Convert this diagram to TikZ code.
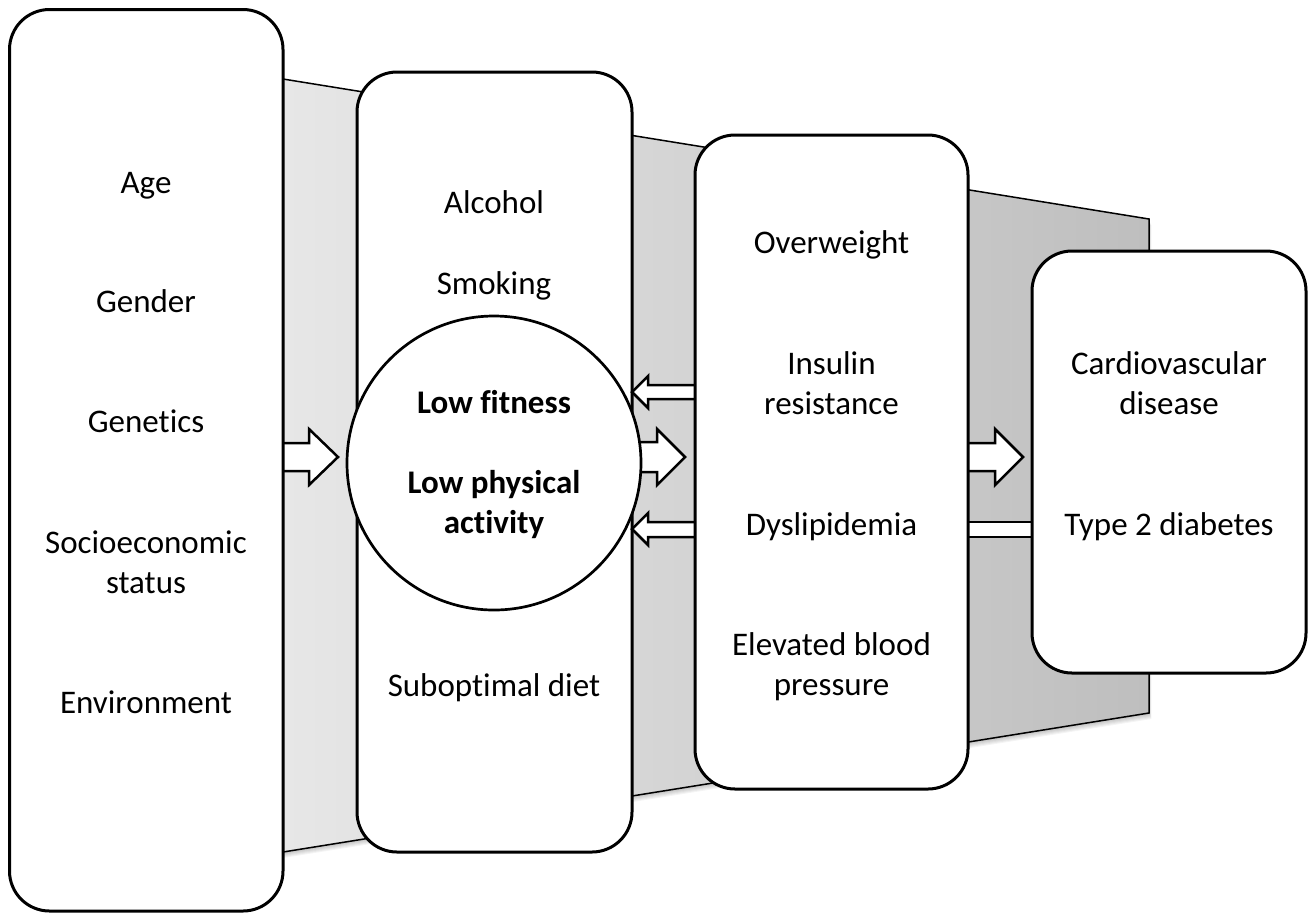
\documentclass[tikz,border=0pt]{standalone}
\usepackage{fontspec}
\setmainfont{Carlito}[Ligatures=NoCommon, RawFeature={-liga;-clig}]
\definecolor{bgL}{RGB}{231,231,231}
\definecolor{bgR}{RGB}{190,190,190}
\newcommand{\twol}[2]{\begin{tabular}[b]{@{}c@{}}#1\\#2\end{tabular}}
\begin{document}
\begin{tikzpicture}[x=1pt,y=-1pt,
  box/.style={draw, line width=3pt, rounded corners=40pt, fill=white, inner sep=0pt},
  blk/.style={draw, line width=2.5pt, fill=white, line join=miter},
  lbl/.style={font=\fontsize{33}{40}\selectfont, inner sep=0pt, anchor=base},
  blbl/.style={lbl, font=\fontsize{33}{40}\selectfont\bfseries}]
\useasboundingbox (0,0) rectangle (1309,914);
% background band with soft shadow
\foreach \s in {1,...,6}
  \fill[black, opacity=0.045] (283,79+\s) -- (1149+\s*0.4,219+\s) -- (1149+\s*0.4,713+\s) -- (283,852+\s) -- cycle;
\shade[left color=bgL, right color=bgR, draw=black, line width=1.5pt]
  (283,79) -- (1149,219) -- (1149,713) -- (283,852) -- cycle;
% forward block arrows (partly hidden under boxes)
\draw[blk] (270,443) -- (309,443) -- (309,429) -- (338,457) -- (309,485) -- (309,471) -- (270,471);
\draw[blk] (600,442) -- (657,442) -- (657,429) -- (685,457) -- (657,485) -- (657,472) -- (600,472);
\draw[blk] (950,443) -- (995,443) -- (995,429) -- (1023,457) -- (995,485) -- (995,471) -- (950,471);
\draw[blk] (950,522) rectangle (1050,537);
% boxes and circle
\node[box, minimum width=273.5pt, minimum height=901.5pt] (b1) at (146.25,460.25) {};
\node[box, minimum width=275pt, minimum height=780pt] (b2) at (494.5,462) {};
\node[draw, circle, line width=2.7pt, fill=white, minimum size=294pt, inner sep=0pt] (c) at (494,463) {};
% backward block arrows
\draw[blk] (710,385) -- (648,385) -- (648,376) -- (632,392) -- (648,408) -- (648,399) -- (710,399);
\draw[blk] (710,522) -- (648,522) -- (648,513) -- (632,529) -- (648,545) -- (648,537) -- (710,537);
\node[box, minimum width=273pt, minimum height=654pt] (b3) at (831.5,462) {};
\node[box, minimum width=274pt, minimum height=422pt] (b4) at (1169,462) {};
% texts box 1
\node[lbl] (t11) at (146,193) {Age};
\node[lbl] (t12) at (146,312) {Gender};
\node[lbl] (t13) at (146,432) {Genetics};
\node[lbl] (t14) at (146,593) {\twol{Socioeconomic}{status}};
\node[lbl] (t15) at (146,713) {Environment};
% texts box 2
\node[lbl] (t21) at (494,213) {Alcohol};
\node[lbl] (t22) at (494,294) {Smoking};
\node[blbl] (t23) at (494,413) {Low fitness};
\node[blbl] (t24) at (494,533) {\twol{Low physical}{activity}};
\node[lbl] (t25) at (494,696) {Suboptimal diet};
% texts box 3
\node[lbl] (t31) at (831.5,253) {Overweight};
\node[lbl] (t32) at (831.5,414) {\twol{Insulin}{resistance}};
\node[lbl] (t33) at (831.5,535) {Dyslipidemia};
\node[lbl] (t34) at (831.5,695) {\twol{Elevated blood}{pressure}};
% texts box 4
\node[lbl] (t41) at (1169,414) {\twol{Cardiovascular}{disease}};
\node[lbl] (t42) at (1169,535) {Type 2 diabetes};
\end{tikzpicture}
\end{document}
